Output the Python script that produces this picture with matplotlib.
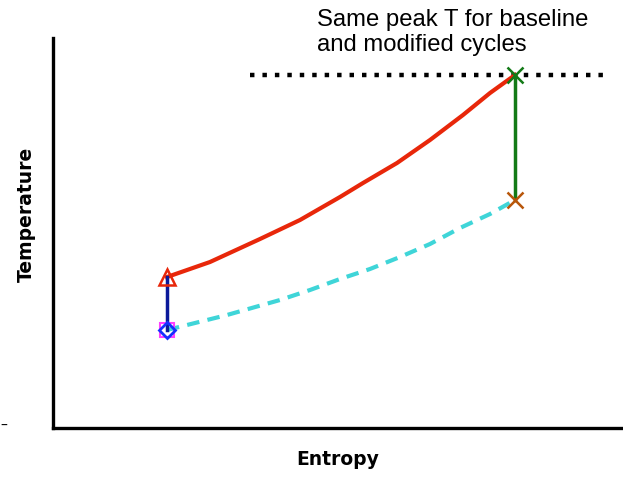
import matplotlib.pyplot as plt

# heating curve (modified cycle) and baseline (dashed)
red_s = [114, 157, 207, 247, 287, 310, 344, 377, 410, 437, 462]
red_T = [151, 166, 189, 208, 231, 245, 265, 288, 313, 335, 353]
cyan_s = [114, 174, 227, 257, 287, 317, 347, 377, 407, 437, 462]
cyan_T = [98, 113, 128, 138, 149, 159, 171, 184, 200, 214, 228]

s_low = 114
s_high = 462
T_start = 98
T_pre = 151
T_peak = 353
T_base_end = 228
peak_line_s = [197, 552]

fig = plt.figure(figsize=(6.23, 4.8), dpi=100)
ax = fig.add_axes([53/623, 52/480, 1 - 53/623, 390/480])

ax.plot(peak_line_s, [T_peak, T_peak], color='black', lw=3.2, linestyle=(0, (1, 1.8)))
ax.plot(cyan_s, cyan_T, color='#3fd5d8', lw=3, linestyle=(0, (3, 2)))
ax.plot(red_s, red_T, color='#e8270a', lw=3)
ax.plot([s_low, s_low], [T_start, T_pre], color='#0b1a9a', lw=2.5)
ax.plot([s_high, s_high], [T_base_end, T_peak], color='#137a17', lw=2.5)

ax.plot(s_low, T_start, 's', ms=10, mfc='none', mec='#ff40ff', mew=1.5)
ax.plot(s_low, T_start, 'D', ms=8, mfc='none', mec='#1530ff', mew=2)
ax.plot(s_low, T_pre, '^', ms=11, mfc='none', mec='#e8270a', mew=1.8)
ax.plot(s_high, T_peak, 'x', ms=11, color='#137a17', mew=1.8)
ax.plot(s_high, T_base_end, 'x', ms=11, color='#b8560a', mew=1.8)

ax.set_xlim(0, 570)
ax.set_ylim(0, 390)
ax.set_xticks([])
ax.set_yticks([])
for side in ['top', 'right']:
    ax.spines[side].set_visible(False)
for side in ['left', 'bottom']:
    ax.spines[side].set_linewidth(2.4)

ax.set_xlabel('Entropy', fontsize=13.5, fontweight='bold')
ax.set_ylabel('Temperature', fontsize=13.5, fontweight='bold')
ax.xaxis.set_label_coords(0.5, -0.082)
ax.yaxis.set_label_coords(-0.046, 0.549)
ax.xaxis.label.set_va('center')
ax.yaxis.label.set_va('center')

fig.text(317/623, 1 - 9/480, 'Same peak T for baseline\nand modified cycles',
         fontsize=17.2, family='Liberation Sans', ha='left', va='top', linespacing=1.17)
fig.text(0.0, 1 - 426/480, '\u2013', fontsize=10, ha='left', va='center')

fig.savefig('out.png', dpi=100)
